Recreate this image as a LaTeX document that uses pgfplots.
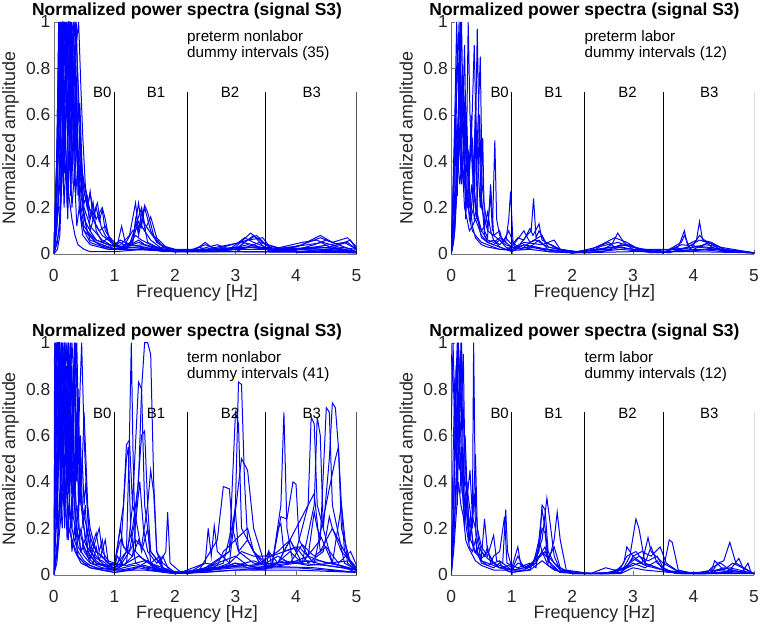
\documentclass[border=0pt]{standalone}
\usepackage{fontspec}
\setmainfont{Liberation Sans}
\usepackage{pgfplots}
\pgfplotsset{compat=1.18}

\pgfplotsset{
  spec/.style={
    scale only axis, width=304pt, height=233pt,
    xmin=0, xmax=5, ymin=0, ymax=1,
    xtick={0,1,2,3,4,5}, ytick={0,0.2,0.4,0.6,0.8,1},
    axis lines=left, axis line style={-, black!55},
    tick align=inside, major tick length=4pt, tick style={black!55},
    /pgf/number format/assume math mode=true,
    tick label style={font=\fontsize{17.5}{18}\selectfont, text=black!85},
    xticklabel style={anchor=base, yshift=-28pt},
    every axis title/.style={at={(axis description cs:0.44,1)}, anchor=base, yshift=6pt,
      font=\bfseries\fontsize{17.5}{18}\selectfont},
    every axis x label/.style={at={(axis description cs:0.473,0)}, anchor=base, yshift=-44pt,
      font=\fontsize{18}{18}\selectfont, text=black!85},
    every axis y label/.style={at={(axis description cs:-0.143,0.5)}, rotate=90, anchor=center,
      font=\fontsize{18}{18}\selectfont, text=black!85},
    title={Normalized power spectra (signal S3)},
    xlabel={Frequency [Hz]}, ylabel={Normalized amplitude},
  },
  sp/.style={blue, line width=1pt},
  bl/.style={black, line width=0.7pt},
}
\newcommand{\bands}{%
  \addplot[bl] coordinates {(1,0) (1,0.7)};
  \addplot[bl] coordinates {(2.2,0) (2.2,0.7)};
  \addplot[bl] coordinates {(3.5,0) (3.5,0.7)};
  \addplot[bl] coordinates {(5,0) (5,0.7)};
  \node[font=\fontsize{15}{15}\selectfont] at (axis cs:0.80,0.695) {B0};
  \node[font=\fontsize{15}{15}\selectfont] at (axis cs:1.69,0.695) {B1};
  \node[font=\fontsize{15}{15}\selectfont] at (axis cs:2.91,0.695) {B2};
  \node[font=\fontsize{15}{15}\selectfont] at (axis cs:4.26,0.695) {B3};
}
\newcommand{\note}[2]{%
  \node[anchor=base west, inner sep=0pt, font=\fontsize{15.3}{15}\selectfont] at (axis cs:2.2,0.914) {#1};
  \node[anchor=base west, inner sep=0pt, font=\fontsize{15.3}{15}\selectfont] at (axis cs:2.2,0.845) {#2};
}

\begin{document}
\begin{tikzpicture}
\useasboundingbox (-54pt,-50pt) rectangle (709pt,577pt);

% preterm nonlabor
\begin{axis}[spec, at={(0pt,322pt)}, anchor=south west]
\addplot[sp] coordinates {(0,0) (0.04,0.3) (0.08,0.9) (0.1,1) (0.14,0.7) (0.18,1) (0.22,0.8) (0.26,1) (0.3,0.6) (0.34,0.9) (0.38,0.5) (0.42,0.35) (0.46,0.3) (0.5,0.22) (0.55,0.25) (0.6,0.18) (0.7,0.12) (0.8,0.08) (0.9,0.06) (1.0,0.04) (1.1,0.05) (1.2,0.03) (1.35,0.08) (1.45,0.06) (1.6,0.04) (1.8,0.02) (2.0,0.015) (2.2,0.01) (2.5,0.02) (2.8,0.015) (3.2,0.04) (3.4,0.03) (3.7,0.01) (4.0,0.02) (4.4,0.03) (4.8,0.02) (5,0.01)};
\addplot[sp] coordinates {(0,0) (0.06,0.5) (0.1,1) (0.12,0.6) (0.16,1) (0.2,0.7) (0.24,1) (0.28,0.9) (0.32,1) (0.36,0.7) (0.4,0.45) (0.44,0.38) (0.5,0.27) (0.55,0.2) (0.6,0.26) (0.65,0.2) (0.7,0.15) (0.8,0.2) (0.85,0.15) (0.9,0.08) (1.0,0.05) (1.1,0.03) (1.3,0.05) (1.4,0.22) (1.45,0.12) (1.5,0.2) (1.6,0.1) (1.7,0.05) (1.9,0.02) (2.2,0.01) (2.4,0.03) (2.6,0.01) (3.0,0.02) (3.3,0.08) (3.5,0.02) (3.9,0.01) (4.3,0.04) (4.5,0.06) (4.9,0.02) (5,0.01)};
\addplot[sp] coordinates {(0,0) (0.05,0.2) (0.1,0.8) (0.13,1) (0.17,0.5) (0.21,1) (0.25,0.6) (0.29,1) (0.33,0.75) (0.37,1) (0.41,0.6) (0.45,0.3) (0.5,0.15) (0.6,0.1) (0.7,0.2) (0.75,0.14) (0.8,0.19) (0.85,0.1) (0.95,0.06) (1.05,0.04) (1.12,0.12) (1.18,0.05) (1.3,0.04) (1.35,0.15) (1.4,0.08) (1.5,0.21) (1.55,0.18) (1.65,0.08) (1.8,0.03) (2.0,0.01) (2.3,0.02) (2.5,0.04) (2.7,0.02) (3.0,0.03) (3.25,0.09) (3.4,0.06) (3.6,0.02) (4.0,0.03) (4.2,0.05) (4.4,0.07) (4.7,0.04) (4.9,0.06) (5,0.02)};
\addplot[sp] coordinates {(0,0) (0.08,0.6) (0.11,1) (0.15,0.85) (0.19,1) (0.23,0.5) (0.27,0.9) (0.31,0.4) (0.35,0.6) (0.4,0.3) (0.45,0.2) (0.5,0.12) (0.6,0.08) (0.7,0.05) (0.8,0.04) (0.9,0.03) (1.0,0.02) (1.2,0.03) (1.4,0.06) (1.5,0.04) (1.7,0.02) (2.0,0.01) (2.5,0.02) (3.1,0.05) (3.3,0.04) (3.6,0.01) (4.1,0.02) (4.6,0.03) (5,0.01)};
\addplot[sp] coordinates {(0,0.02) (0.1,0.3) (0.15,1) (0.2,0.95) (0.25,1) (0.3,0.7) (0.35,0.85) (0.4,0.35) (0.45,0.4) (0.5,0.3) (0.55,0.25) (0.6,0.1) (0.7,0.06) (0.8,0.05) (0.9,0.07) (1.0,0.03) (1.1,0.04) (1.25,0.08) (1.35,0.22) (1.4,0.1) (1.45,0.18) (1.55,0.05) (1.7,0.03) (2.0,0.02) (2.4,0.01) (2.8,0.03) (3.2,0.06) (3.35,0.08) (3.5,0.04) (3.8,0.02) (4.1,0.04) (4.4,0.08) (4.6,0.05) (4.85,0.07) (5,0.03)};
\addplot[sp] coordinates {(0,0) (0.07,0.2) (0.12,0.6) (0.16,1) (0.2,0.9) (0.24,0.75) (0.28,1) (0.32,0.5) (0.36,1) (0.4,0.75) (0.44,0.5) (0.48,0.3) (0.52,0.25) (0.6,0.15) (0.65,0.22) (0.7,0.1) (0.8,0.05) (0.9,0.04) (1.0,0.02) (1.15,0.03) (1.3,0.1) (1.45,0.12) (1.6,0.06) (1.8,0.02) (2.2,0.01) (2.6,0.02) (3.0,0.01) (3.4,0.05) (3.8,0.02) (4.3,0.03) (4.8,0.05) (5,0.02)};
\addplot[sp] coordinates {(0,0) (0.05,0.1) (0.1,0.4) (0.14,1) (0.18,0.65) (0.22,1) (0.26,0.55) (0.3,0.85) (0.34,0.3) (0.38,0.5) (0.42,0.2) (0.5,0.1) (0.6,0.05) (0.7,0.04) (0.85,0.03) (1.0,0.02) (1.2,0.04) (1.5,0.03) (1.8,0.01) (2.5,0.01) (3.0,0.02) (3.3,0.03) (4.0,0.01) (4.5,0.02) (5,0.01)};
\addplot[sp] coordinates {(0,0) (0.09,0.1) (0.12,0.35) (0.17,0.8) (0.21,1) (0.25,0.9) (0.29,0.7) (0.33,1) (0.37,0.9) (0.41,1) (0.45,0.7) (0.48,0.5) (0.52,0.3) (0.56,0.2) (0.6,0.27) (0.65,0.15) (0.75,0.1) (0.85,0.12) (0.95,0.05) (1.05,0.03) (1.2,0.02) (1.3,0.06) (1.4,0.14) (1.5,0.1) (1.6,0.16) (1.7,0.07) (1.85,0.03) (2.1,0.01) (2.4,0.02) (2.7,0.04) (2.9,0.02) (3.15,0.07) (3.3,0.05) (3.6,0.02) (3.9,0.03) (4.2,0.04) (4.45,0.05) (4.7,0.03) (5,0.02)};
\addplot[sp] coordinates {(0,0) (0.06,0.05) (0.1,0.15) (0.15,0.4) (0.2,0.6) (0.25,1) (0.3,0.95) (0.35,0.55) (0.4,0.4) (0.45,0.25) (0.5,0.18) (0.55,0.1) (0.6,0.06) (0.7,0.05) (0.8,0.03) (0.9,0.02) (1.1,0.02) (1.4,0.05) (1.6,0.03) (2.0,0.01) (2.7,0.01) (3.2,0.03) (3.8,0.01) (4.4,0.03) (5,0.01)};
\addplot[sp] coordinates {(0,0) (0.06,0.02) (0.1,0.08) (0.13,0.3) (0.17,0.55) (0.21,0.4) (0.25,0.25) (0.3,0.15) (0.35,0.08) (0.4,0.04) (0.5,0.02) (0.6,0.01) (1.0,0.01) (1.5,0.02) (2.0,0.01) (3.0,0.01) (4.0,0.01) (5,0.005)};
\addplot[sp] coordinates {(0,0) (0.08,0.45) (0.13,0.9) (0.18,1) (0.22,0.6) (0.27,1) (0.31,0.85) (0.35,1) (0.39,0.55) (0.43,0.65) (0.47,0.35) (0.52,0.28) (0.58,0.2) (0.65,0.17) (0.72,0.22) (0.78,0.12) (0.85,0.08) (0.92,0.06) (1.0,0.04) (1.1,0.06) (1.25,0.04) (1.35,0.12) (1.45,0.2) (1.5,0.13) (1.6,0.09) (1.75,0.04) (2.0,0.02) (2.35,0.02) (2.5,0.05) (2.65,0.02) (3.0,0.02) (3.2,0.06) (3.45,0.07) (3.6,0.02) (4.1,0.05) (4.35,0.06) (4.55,0.03) (4.85,0.05) (5,0.02)};
\addplot[sp] coordinates {(0,0) (0.05,0.4) (0.08,1) (0.11,0.55) (0.14,0.95) (0.17,0.45) (0.2,0.85) (0.23,0.5) (0.26,0.95) (0.29,0.45) (0.32,0.8) (0.35,0.4) (0.38,0.7) (0.41,0.3) (0.44,0.4) (0.5,0.2) (0.6,0.12) (0.8,0.06) (1.0,0.03) (1.5,0.04) (2.0,0.01) (3.0,0.02) (4.0,0.02) (5,0.01)};
\addplot[sp] coordinates {(0,0) (0.06,0.3) (0.09,0.75) (0.12,0.3) (0.15,0.7) (0.18,0.35) (0.21,0.75) (0.24,0.3) (0.27,0.6) (0.3,0.3) (0.33,0.65) (0.36,0.25) (0.4,0.4) (0.45,0.15) (0.5,0.1) (0.7,0.05) (1.0,0.02) (1.4,0.03) (2.0,0.01) (3.2,0.03) (4.5,0.02) (5,0.01)};
\addplot[sp] coordinates {(0,0) (0.07,0.55) (0.1,0.45) (0.13,0.9) (0.16,0.3) (0.19,0.6) (0.22,0.2) (0.25,0.7) (0.28,0.25) (0.31,0.95) (0.34,0.45) (0.37,0.75) (0.4,0.25) (0.43,0.55) (0.47,0.2) (0.55,0.1) (0.7,0.06) (0.9,0.04) (1.2,0.03) (1.6,0.02) (2.5,0.01) (3.5,0.01) (5,0.01)};
\addplot[sp] coordinates {(0,0) (0.08,0.2) (0.11,0.2) (0.14,0.5) (0.17,0.2) (0.2,0.4) (0.23,0.15) (0.26,0.45) (0.3,0.2) (0.34,0.35) (0.38,0.12) (0.42,0.2) (0.48,0.08) (0.6,0.04) (0.9,0.02) (1.3,0.02) (2.0,0.01) (3.0,0.01) (5,0.005)};
\bands
\note{preterm nonlabor}{dummy intervals (35)}
\end{axis}

% preterm labor
\begin{axis}[spec, at={(399pt,322pt)}, anchor=south west]
\addplot[sp] coordinates {(0,0) (0.03,0.3) (0.06,0.6) (0.09,1) (0.12,0.7) (0.15,1) (0.18,0.4) (0.22,0.3) (0.26,0.2) (0.3,0.25) (0.35,0.12) (0.4,0.15) (0.5,0.08) (0.6,0.05) (0.7,0.04) (0.8,0.06) (0.9,0.03) (1.0,0.02) (1.2,0.04) (1.4,0.03) (1.6,0.02) (2.0,0.005) (2.5,0.02) (2.65,0.04) (2.75,0.09) (2.85,0.05) (3.0,0.02) (3.5,0.005) (3.75,0.03) (3.85,0.1) (3.9,0.04) (4.05,0.06) (4.1,0.14) (4.15,0.06) (4.3,0.05) (4.5,0.02) (5,0.005)};
\addplot[sp] coordinates {(0,0) (0.05,0.4) (0.1,0.9) (0.13,0.6) (0.17,1) (0.2,0.55) (0.25,0.45) (0.3,0.35) (0.33,0.6) (0.36,0.3) (0.4,0.2) (0.45,0.15) (0.5,0.1) (0.55,0.12) (0.6,0.18) (0.65,0.1) (0.7,0.06) (0.8,0.04) (0.9,0.07) (1.0,0.04) (1.1,0.07) (1.2,0.06) (1.3,0.11) (1.35,0.08) (1.45,0.13) (1.5,0.06) (1.7,0.03) (1.9,0.01) (2.3,0.005) (2.5,0.04) (2.6,0.05) (2.7,0.03) (2.9,0.04) (3.1,0.02) (3.5,0.005) (3.8,0.05) (3.85,0.08) (3.95,0.02) (4.1,0.08) (4.3,0.03) (4.5,0.01) (5,0.005)};
\addplot[sp] coordinates {(0,0) (0.07,0.2) (0.1,0.5) (0.14,0.8) (0.18,0.5) (0.22,0.9) (0.25,0.4) (0.28,1) (0.31,0.6) (0.35,0.35) (0.39,0.3) (0.43,0.97) (0.46,0.5) (0.5,0.2) (0.55,0.15) (0.6,0.1) (0.7,0.08) (0.8,0.06) (0.9,0.04) (1.0,0.03) (1.15,0.02) (1.3,0.05) (1.4,0.06) (1.6,0.03) (2.0,0.01) (2.6,0.02) (2.8,0.04) (3.0,0.03) (3.4,0.005) (4.0,0.02) (4.25,0.05) (4.5,0.01) (5,0.005)};
\addplot[sp] coordinates {(0,0) (0.06,0.1) (0.1,0.3) (0.15,0.6) (0.2,0.75) (0.24,0.5) (0.3,0.4) (0.34,0.55) (0.38,0.9) (0.42,0.4) (0.48,0.85) (0.51,0.3) (0.55,0.2) (0.6,0.12) (0.65,0.25) (0.68,0.1) (0.72,0.49) (0.75,0.15) (0.8,0.08) (0.9,0.05) (0.95,0.15) (0.98,0.27) (1.02,0.05) (1.1,0.03) (1.25,0.08) (1.32,0.1) (1.36,0.24) (1.4,0.07) (1.45,0.1) (1.55,0.05) (1.65,0.04) (1.8,0.02) (2.2,0.005) (2.55,0.05) (2.7,0.07) (2.9,0.05) (3.1,0.02) (3.6,0.005) (3.9,0.03) (4.1,0.06) (4.35,0.04) (4.6,0.01) (5,0.005)};
\addplot[sp] coordinates {(0,0) (0.04,0.05) (0.08,0.25) (0.12,0.55) (0.16,0.35) (0.2,0.7) (0.24,0.3) (0.28,0.2) (0.32,0.15) (0.36,0.3) (0.4,0.6) (0.44,0.4) (0.48,0.2) (0.52,0.5) (0.55,0.1) (0.6,0.07) (0.65,0.3) (0.7,0.08) (0.8,0.1) (0.85,0.05) (0.95,0.1) (1.05,0.03) (1.2,0.05) (1.5,0.04) (1.7,0.06) (1.8,0.02) (2.2,0.005) (2.8,0.02) (3.2,0.01) (3.8,0.01) (4.3,0.02) (5,0.005)};
\addplot[sp] coordinates {(0,0) (0.05,0.15) (0.09,0.7) (0.13,1) (0.16,0.45) (0.19,0.35) (0.23,0.65) (0.27,0.2) (0.31,0.4) (0.35,0.5) (0.38,0.3) (0.42,0.15) (0.47,0.6) (0.5,0.25) (0.55,0.08) (0.6,0.05) (0.7,0.04) (0.8,0.03) (0.9,0.02) (1.0,0.03) (1.2,0.02) (1.4,0.03) (1.6,0.01) (2.0,0.005) (2.75,0.05) (3.0,0.03) (3.5,0.005) (3.8,0.04) (4.2,0.03) (5,0.005)};
\addplot[sp] coordinates {(0,0) (0.04,0.3) (0.08,0.55) (0.11,0.4) (0.15,0.8) (0.19,0.6) (0.23,0.3) (0.27,0.25) (0.3,0.15) (0.35,0.1) (0.4,0.08) (0.5,0.05) (0.6,0.04) (0.7,0.03) (0.8,0.02) (1.0,0.02) (1.3,0.03) (1.5,0.02) (2.0,0.005) (2.65,0.03) (2.95,0.04) (3.2,0.01) (4.05,0.03) (4.4,0.02) (5,0.005)};
\addplot[sp] coordinates {(0,0) (0.05,0.08) (0.1,0.35) (0.15,0.5) (0.2,0.3) (0.26,0.55) (0.3,0.2) (0.34,0.3) (0.38,0.15) (0.42,0.2) (0.46,0.12) (0.5,0.07) (0.6,0.05) (0.7,0.06) (0.8,0.03) (0.9,0.02) (1.0,0.01) (1.2,0.04) (1.3,0.03) (1.45,0.06) (1.6,0.02) (2.0,0.005) (2.5,0.01) (2.8,0.03) (3.3,0.005) (4.1,0.02) (4.5,0.01) (5,0.005)};
\addplot[sp] coordinates {(0,0) (0.03,0.1) (0.06,0.2) (0.1,0.45) (0.14,0.3) (0.18,0.4) (0.22,0.2) (0.26,0.15) (0.3,0.1) (0.35,0.12) (0.4,0.07) (0.5,0.04) (0.6,0.03) (0.8,0.02) (1.0,0.015) (1.3,0.02) (1.6,0.01) (2.0,0.005) (3.0,0.01) (4.0,0.01) (5,0.005)};
\addplot[sp] coordinates {(0,0) (0.04,0.2) (0.07,0.65) (0.1,0.25) (0.14,0.9) (0.17,0.3) (0.21,0.5) (0.24,0.15) (0.28,0.45) (0.32,0.15) (0.37,0.2) (0.4,0.65) (0.43,0.15) (0.5,0.1) (0.6,0.06) (0.7,0.05) (0.8,0.07) (0.9,0.05) (1.0,0.03) (1.2,0.1) (1.3,0.05) (1.5,0.08) (1.6,0.03) (2.0,0.005) (2.7,0.03) (3.0,0.02) (3.8,0.02) (4.2,0.04) (5,0.005)};
\bands
\note{preterm labor}{dummy intervals (12)}
\end{axis}

% term nonlabor
\begin{axis}[spec, at={(0pt,0pt)}, anchor=south west]
\addplot[sp] coordinates {(0,0.9) (0.03,1) (0.06,0.5) (0.09,1) (0.12,0.7) (0.15,1) (0.2,0.6) (0.25,1) (0.3,0.5) (0.35,0.8) (0.4,0.4) (0.45,0.3) (0.5,0.2) (0.55,0.12) (0.6,0.1) (0.7,0.18) (0.75,0.1) (0.8,0.15) (0.85,0.06) (0.95,0.04) (1.05,0.05) (1.2,0.1) (1.25,0.6) (1.28,1) (1.31,0.5) (1.35,0.1) (1.5,0.06) (1.7,0.03) (2.0,0.01) (2.2,0.005) (2.5,0.02) (2.8,0.03) (3.0,0.05) (3.3,0.02) (3.6,0.03) (3.75,0.3) (3.8,0.7) (3.85,0.2) (3.95,0.05) (4.2,0.06) (4.5,0.04) (4.8,0.03) (5,0.01)};
\addplot[sp] coordinates {(0,0.2) (0.03,0.9) (0.07,1) (0.11,0.4) (0.14,1) (0.18,0.8) (0.22,1) (0.26,0.5) (0.3,0.9) (0.34,0.3) (0.38,0.2) (0.45,0.1) (0.5,0.15) (0.6,0.08) (0.7,0.05) (0.9,0.04) (1.0,0.03) (1.1,0.05) (1.2,0.1) (1.3,0.2) (1.4,0.4) (1.45,0.8) (1.5,1) (1.55,1) (1.6,0.95) (1.65,0.4) (1.7,0.1) (1.8,0.05) (2.0,0.01) (2.3,0.01) (2.6,0.04) (2.9,0.1) (3.0,0.3) (3.05,0.83) (3.1,0.82) (3.15,0.4) (3.2,0.15) (3.4,0.05) (3.6,0.03) (3.9,0.1) (4.1,0.05) (4.4,0.15) (4.5,0.72) (4.55,0.7) (4.6,0.3) (4.8,0.05) (5,0.02)};
\addplot[sp] coordinates {(0,0) (0.04,0.6) (0.08,1) (0.12,0.9) (0.16,0.5) (0.2,1) (0.24,0.9) (0.28,0.4) (0.32,0.7) (0.36,1) (0.4,0.6) (0.44,0.35) (0.5,0.25) (0.55,0.2) (0.6,0.12) (0.65,0.08) (0.7,0.06) (0.8,0.04) (1.0,0.03) (1.15,0.3) (1.2,0.56) (1.25,0.58) (1.3,0.3) (1.4,0.83) (1.45,0.8) (1.5,0.3) (1.6,0.1) (1.8,0.03) (2.0,0.01) (2.4,0.02) (2.7,0.15) (2.8,0.38) (2.9,0.37) (2.95,0.2) (3.05,0.1) (3.3,0.05) (3.6,0.04) (3.75,0.25) (3.85,0.24) (3.95,0.4) (4.0,0.39) (4.05,0.15) (4.2,0.08) (4.3,0.27) (4.35,0.2) (4.6,0.05) (5,0.02)};
\addplot[sp] coordinates {(0,0.3) (0.05,1) (0.1,0.8) (0.13,1) (0.17,0.6) (0.21,0.9) (0.25,0.7) (0.3,1) (0.34,0.8) (0.38,1) (0.42,0.5) (0.46,0.4) (0.5,0.7) (0.53,0.5) (0.56,0.3) (0.6,0.2) (0.65,0.15) (0.7,0.1) (0.8,0.08) (0.9,0.05) (1.0,0.04) (1.1,0.2) (1.15,0.12) (1.25,0.1) (1.35,0.25) (1.45,0.6) (1.5,0.62) (1.55,0.3) (1.6,0.1) (1.75,0.05) (1.85,0.1) (1.88,0.27) (1.92,0.05) (2.1,0.01) (2.5,0.05) (2.55,0.2) (2.6,0.08) (2.65,0.21) (2.7,0.1) (2.9,0.05) (3.1,0.5) (3.2,0.45) (3.3,0.2) (3.5,0.03) (3.7,0.05) (4.2,0.3) (4.25,0.68) (4.3,0.65) (4.35,0.3) (4.6,0.05) (4.75,0.3) (4.8,0.1) (5,0.02)};
\addplot[sp] coordinates {(0,0) (0.02,0.5) (0.06,1) (0.1,1) (0.14,0.6) (0.18,1) (0.22,0.4) (0.26,0.8) (0.3,0.6) (0.34,1) (0.38,0.5) (0.42,0.7) (0.46,1) (0.5,0.6) (0.54,0.35) (0.58,0.2) (0.62,0.12) (0.7,0.08) (0.8,0.05) (0.9,0.03) (1.0,0.02) (1.2,0.05) (1.3,0.3) (1.35,0.25) (1.45,0.1) (1.55,0.2) (1.6,0.05) (1.8,0.02) (2.2,0.005) (2.5,0.02) (2.8,0.05) (3.0,0.27) (3.05,0.1) (3.2,0.15) (3.4,0.05) (3.7,0.1) (3.9,0.15) (4.1,0.05) (4.3,0.3) (4.35,0.68) (4.4,0.6) (4.45,0.2) (4.55,0.5) (4.6,0.74) (4.65,0.72) (4.7,0.55) (4.75,0.3) (4.85,0.05) (5,0.02)};
\addplot[sp] coordinates {(0,0) (0.05,0.3) (0.09,0.8) (0.13,0.5) (0.17,1) (0.21,0.7) (0.25,0.4) (0.29,0.9) (0.33,0.5) (0.37,0.3) (0.41,0.2) (0.5,0.12) (0.6,0.07) (0.75,0.2) (0.8,0.1) (0.9,0.06) (1.0,0.05) (1.1,0.15) (1.2,0.1) (1.3,0.08) (1.38,0.3) (1.42,0.4) (1.48,0.2) (1.55,0.1) (1.7,0.05) (1.8,0.08) (1.9,0.02) (2.1,0.005) (2.5,0.03) (2.9,0.1) (2.95,0.4) (3.0,0.7) (3.05,0.65) (3.1,0.2) (3.3,0.1) (3.45,0.05) (3.55,0.1) (3.7,0.05) (3.9,0.15) (4.0,0.1) (4.2,0.3) (4.3,0.35) (4.4,0.1) (4.6,0.2) (4.7,0.15) (4.9,0.05) (5,0.02)};
\addplot[sp] coordinates {(0,0) (0.04,0.2) (0.08,0.5) (0.12,1) (0.16,0.9) (0.2,0.5) (0.24,0.35) (0.28,0.6) (0.32,0.25) (0.36,0.2) (0.4,0.12) (0.5,0.08) (0.6,0.05) (0.8,0.04) (1.0,0.03) (1.1,0.04) (1.25,0.1) (1.35,0.15) (1.45,0.12) (1.55,0.3) (1.6,0.45) (1.65,0.35) (1.7,0.1) (1.8,0.02) (2.2,0.005) (2.6,0.02) (2.9,0.05) (3.1,0.1) (3.3,0.08) (3.6,0.08) (3.8,0.1) (4.0,0.12) (4.2,0.05) (4.45,0.1) (4.55,0.25) (4.6,0.2) (4.75,0.1) (5,0.03)};
\addplot[sp] coordinates {(0,0) (0.03,0.05) (0.06,0.1) (0.1,0.3) (0.14,0.6) (0.18,0.4) (0.22,0.7) (0.26,0.3) (0.3,0.2) (0.34,0.15) (0.4,0.1) (0.5,0.06) (0.6,0.04) (0.8,0.02) (1.0,0.02) (1.2,0.05) (1.4,0.08) (1.6,0.05) (1.75,0.08) (1.8,0.03) (2.0,0.01) (2.4,0.01) (2.7,0.05) (3.0,0.08) (3.2,0.04) (3.5,0.02) (3.55,0.1) (3.6,0.04) (3.9,0.05) (4.2,0.08) (4.5,0.05) (4.9,0.06) (5,0.03)};
\addplot[sp] coordinates {(0,0) (0.03,0.8) (0.06,0.9) (0.1,0.5) (0.14,0.7) (0.18,1) (0.22,0.6) (0.26,0.4) (0.3,0.5) (0.35,0.3) (0.4,0.15) (0.45,0.2) (0.5,0.1) (0.55,0.08) (0.65,0.05) (0.7,0.12) (0.75,0.06) (0.85,0.15) (0.9,0.05) (1.0,0.02) (1.1,0.08) (1.2,0.5) (1.23,0.55) (1.27,0.2) (1.35,0.05) (1.5,0.03) (1.7,0.02) (2.0,0.005) (2.4,0.02) (2.6,0.03) (3.0,0.04) (3.3,0.06) (3.6,0.03) (3.7,0.2) (3.75,0.22) (3.8,0.1) (4.05,0.12) (4.3,0.05) (4.65,0.5) (4.7,0.55) (4.75,0.2) (4.9,0.05) (5,0.02)};
\addplot[sp] coordinates {(0,0) (0.05,0.1) (0.08,0.2) (0.12,0.5) (0.16,0.3) (0.2,0.4) (0.25,0.2) (0.3,0.15) (0.35,0.1) (0.45,0.05) (0.6,0.03) (0.8,0.02) (1.0,0.01) (1.3,0.02) (1.5,0.05) (1.55,0.06) (1.7,0.02) (2.0,0.005) (2.5,0.01) (3.0,0.02) (3.5,0.03) (4.0,0.05) (4.5,0.04) (5,0.02)};
\addplot[sp] coordinates {(0,0) (0.04,0.4) (0.08,0.7) (0.12,0.4) (0.16,0.8) (0.2,0.5) (0.24,1) (0.28,0.7) (0.32,0.35) (0.36,0.5) (0.4,0.8) (0.44,0.4) (0.48,0.25) (0.52,0.15) (0.56,0.18) (0.6,0.1) (0.7,0.07) (0.8,0.06) (0.9,0.04) (1.0,0.03) (1.05,0.08) (1.15,0.04) (1.3,0.08) (1.4,0.15) (1.5,0.1) (1.6,0.04) (1.8,0.01) (2.2,0.005) (2.5,0.05) (2.7,0.04) (2.8,0.1) (3.0,0.15) (3.2,0.2) (3.3,0.1) (3.5,0.05) (3.7,0.08) (3.9,0.05) (4.1,0.13) (4.3,0.08) (4.5,0.12) (4.7,0.05) (4.9,0.1) (5,0.04)};
\addplot[sp] coordinates {(0,0) (0.05,0.05) (0.1,0.2) (0.15,0.35) (0.2,0.25) (0.3,0.15) (0.4,0.08) (0.5,0.05) (0.6,0.03) (0.8,0.02) (1.0,0.01) (1.4,0.03) (1.6,0.02) (2.0,0.005) (2.6,0.02) (3.0,0.05) (3.4,0.03) (3.8,0.06) (4.2,0.04) (4.6,0.05) (5,0.02)};
\addplot[sp] coordinates {(0,0.5) (0.02,1) (0.05,0.3) (0.08,0.9) (0.11,0.35) (0.14,0.8) (0.17,0.3) (0.2,0.9) (0.23,0.4) (0.26,0.95) (0.29,0.35) (0.32,0.85) (0.35,0.3) (0.38,0.7) (0.41,0.25) (0.44,0.6) (0.48,0.2) (0.52,0.3) (0.56,0.1) (0.7,0.05) (1.0,0.02) (1.3,0.04) (1.6,0.03) (2.0,0.005) (3.0,0.03) (4.0,0.03) (5,0.01)};
\addplot[sp] coordinates {(0,0.1) (0.03,0.6) (0.06,0.2) (0.09,0.7) (0.12,0.25) (0.15,0.6) (0.18,0.2) (0.21,0.5) (0.24,0.15) (0.27,0.55) (0.3,0.2) (0.33,0.45) (0.36,0.15) (0.4,0.3) (0.44,0.1) (0.5,0.12) (0.6,0.05) (0.8,0.03) (1.1,0.02) (1.5,0.04) (2.0,0.005) (3.1,0.04) (4.3,0.03) (5,0.01)};
\addplot[sp] coordinates {(0,0) (0.04,1) (0.07,0.7) (0.1,0.95) (0.13,0.4) (0.16,0.75) (0.19,0.55) (0.22,0.8) (0.25,0.45) (0.28,1) (0.31,0.6) (0.34,0.9) (0.37,0.4) (0.4,0.6) (0.43,0.3) (0.47,0.5) (0.5,0.3) (0.53,0.4) (0.57,0.2) (0.62,0.15) (0.7,0.1) (0.9,0.05) (1.2,0.04) (1.5,0.06) (2.0,0.01) (2.8,0.03) (3.6,0.05) (4.4,0.06) (5,0.02)};
\addplot[sp] coordinates {(0,0) (0.06,0.15) (0.1,0.35) (0.14,0.2) (0.18,0.45) (0.22,0.15) (0.26,0.3) (0.3,0.1) (0.34,0.2) (0.4,0.08) (0.5,0.05) (0.7,0.03) (1.0,0.02) (1.5,0.02) (2.0,0.005) (3.0,0.02) (4.0,0.02) (5,0.01)};
\bands
\note{term nonlabor}{dummy intervals (41)}
\end{axis}

% term labor
\begin{axis}[spec, at={(399pt,0pt)}, anchor=south west]
\addplot[sp] coordinates {(0,0.62) (0.03,1) (0.06,0.7) (0.1,1) (0.13,0.6) (0.16,1) (0.2,0.5) (0.24,0.3) (0.28,0.2) (0.32,0.15) (0.4,0.1) (0.5,0.08) (0.55,0.24) (0.6,0.1) (0.7,0.05) (0.8,0.04) (0.9,0.03) (1.0,0.02) (1.1,0.05) (1.3,0.03) (1.45,0.1) (1.5,0.3) (1.55,0.28) (1.6,0.1) (1.7,0.05) (1.9,0.01) (2.3,0.005) (2.6,0.01) (2.85,0.03) (2.95,0.08) (3.05,0.24) (3.1,0.2) (3.2,0.05) (3.5,0.02) (3.6,0.15) (3.65,0.14) (3.75,0.02) (4.0,0.005) (4.3,0.01) (4.4,0.05) (4.5,0.06) (4.6,0.14) (4.7,0.05) (5,0.005)};
\addplot[sp] coordinates {(0,0.95) (0.04,0.8) (0.08,0.5) (0.11,1) (0.14,0.8) (0.17,1) (0.21,0.6) (0.25,0.4) (0.3,0.3) (0.35,0.2) (0.4,0.52) (0.43,0.2) (0.5,0.12) (0.6,0.08) (0.7,0.17) (0.75,0.06) (0.85,0.05) (0.9,0.28) (0.93,0.1) (1.0,0.03) (1.1,0.12) (1.15,0.04) (1.3,0.02) (1.5,0.15) (1.58,0.33) (1.62,0.25) (1.7,0.08) (1.8,0.02) (2.2,0.005) (2.7,0.01) (2.85,0.05) (2.9,0.12) (3.0,0.08) (3.15,0.05) (3.25,0.16) (3.3,0.1) (3.5,0.05) (3.7,0.02) (4.0,0.005) (4.3,0.02) (4.8,0.01) (4.9,0.05) (4.95,0.01) (5,0.005)};
\addplot[sp] coordinates {(0,0) (0.04,0.3) (0.08,0.9) (0.12,0.6) (0.15,0.95) (0.19,0.4) (0.23,0.6) (0.27,0.3) (0.31,0.2) (0.35,0.25) (0.37,1) (0.4,0.3) (0.45,0.15) (0.5,0.1) (0.6,0.07) (0.7,0.05) (0.8,0.06) (0.9,0.04) (1.0,0.02) (1.2,0.02) (1.4,0.05) (1.5,0.2) (1.55,0.18) (1.6,0.05) (1.7,0.15) (1.75,0.27) (1.8,0.15) (1.9,0.02) (2.3,0.005) (2.55,0.03) (2.7,0.02) (2.9,0.03) (3.0,0.08) (3.15,0.1) (3.3,0.08) (3.45,0.12) (3.55,0.05) (3.8,0.005) (4.2,0.005) (4.3,0.03) (4.45,0.05) (4.6,0.02) (4.75,0.07) (4.85,0.01) (5,0.005)};
\addplot[sp] coordinates {(0,0) (0.03,0.5) (0.06,0.85) (0.09,0.6) (0.12,1) (0.16,0.7) (0.2,0.95) (0.23,0.4) (0.27,0.35) (0.31,0.45) (0.35,0.25) (0.4,0.2) (0.45,0.12) (0.5,0.1) (0.55,0.08) (0.6,0.12) (0.65,0.05) (0.7,0.08) (0.8,0.1) (0.88,0.25) (0.92,0.05) (1.0,0.04) (1.1,0.03) (1.3,0.05) (1.4,0.03) (1.5,0.28) (1.55,0.2) (1.6,0.08) (1.8,0.02) (2.0,0.005) (2.6,0.005) (2.8,0.03) (2.9,0.08) (3.05,0.1) (3.2,0.05) (3.3,0.12) (3.4,0.05) (3.6,0.01) (4.1,0.005) (4.3,0.02) (4.35,0.06) (4.5,0.02) (4.65,0.05) (5,0.005)};
\addplot[sp] coordinates {(0,0) (0.05,0.2) (0.09,0.5) (0.13,0.8) (0.17,0.5) (0.21,0.35) (0.25,0.2) (0.3,0.12) (0.35,0.1) (0.4,0.15) (0.45,0.08) (0.5,0.06) (0.6,0.04) (0.7,0.03) (0.8,0.05) (0.9,0.02) (1.0,0.01) (1.2,0.02) (1.45,0.08) (1.55,0.12) (1.6,0.06) (1.8,0.01) (2.2,0.005) (2.7,0.005) (2.9,0.04) (3.0,0.07) (3.2,0.04) (3.5,0.02) (3.8,0.005) (4.3,0.005) (4.4,0.02) (4.6,0.03) (5,0.005)};
\addplot[sp] coordinates {(0,0) (0.04,0.15) (0.08,0.35) (0.12,0.6) (0.16,0.45) (0.2,0.3) (0.24,0.35) (0.28,0.2) (0.32,0.25) (0.36,0.12) (0.4,0.1) (0.45,0.12) (0.5,0.06) (0.6,0.05) (0.7,0.04) (0.8,0.03) (1.0,0.02) (1.2,0.03) (1.4,0.05) (1.5,0.1) (1.6,0.07) (1.7,0.12) (1.8,0.03) (2.0,0.005) (2.6,0.005) (2.8,0.01) (2.95,0.05) (3.1,0.08) (3.25,0.06) (3.4,0.08) (3.5,0.03) (3.7,0.005) (4.2,0.005) (4.5,0.03) (4.8,0.01) (5,0.005)};
\addplot[sp] coordinates {(0,0) (0.04,0.1) (0.08,0.25) (0.12,0.4) (0.16,0.3) (0.2,0.25) (0.24,0.15) (0.28,0.12) (0.32,0.1) (0.4,0.06) (0.5,0.04) (0.6,0.03) (0.7,0.02) (0.9,0.02) (1.0,0.01) (1.3,0.02) (1.5,0.06) (1.6,0.04) (1.8,0.01) (2.5,0.005) (2.8,0.005) (3.0,0.03) (3.2,0.02) (3.6,0.01) (4.5,0.01) (5,0.005)};
\addplot[sp] coordinates {(0,0) (0.05,0.4) (0.09,0.7) (0.13,0.45) (0.17,0.55) (0.21,0.25) (0.25,0.3) (0.29,0.15) (0.33,0.2) (0.38,0.1) (0.45,0.08) (0.5,0.05) (0.6,0.04) (0.7,0.05) (0.8,0.03) (0.95,0.04) (1.05,0.02) (1.2,0.03) (1.35,0.04) (1.45,0.15) (1.5,0.1) (1.6,0.04) (1.7,0.02) (2.0,0.005) (2.5,0.005) (2.8,0.02) (3.1,0.05) (3.3,0.04) (3.6,0.01) (4.4,0.005) (4.6,0.02) (5,0.005)};
\addplot[sp] coordinates {(0,0) (0.04,0.25) (0.07,0.75) (0.1,0.3) (0.13,0.7) (0.16,0.35) (0.19,0.55) (0.22,0.2) (0.26,0.4) (0.3,0.15) (0.34,0.2) (0.38,0.35) (0.42,0.1) (0.5,0.07) (0.6,0.1) (0.7,0.05) (0.8,0.03) (1.0,0.02) (1.1,0.08) (1.2,0.03) (1.4,0.06) (1.55,0.1) (1.65,0.04) (1.8,0.01) (2.5,0.005) (2.8,0.01) (3.0,0.05) (3.2,0.03) (3.4,0.06) (3.5,0.02) (4.0,0.005) (5,0.005)};
\bands
\note{term labor}{dummy intervals (12)}
\end{axis}
\end{tikzpicture}
\end{document}
